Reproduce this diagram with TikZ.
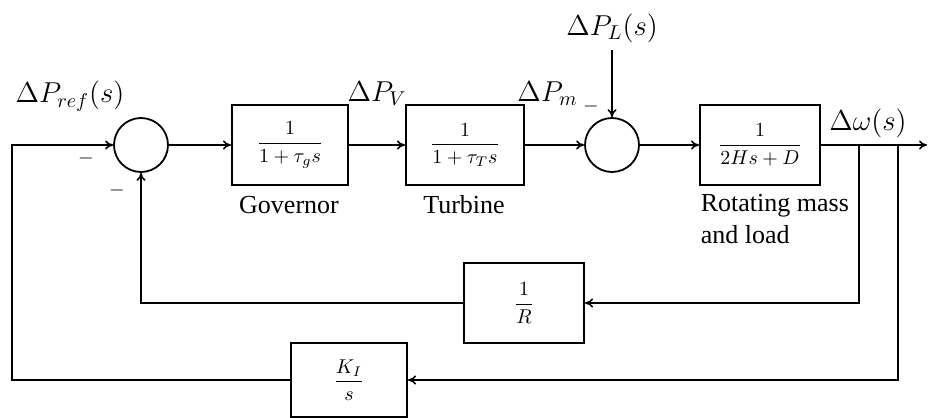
\documentclass[tikz,border=0pt]{standalone}
\usepackage{fontspec}
\setmainfont{Liberation Serif}
\usetikzlibrary{arrows.meta}
\tikzset{
  blk/.style={draw, line width=1pt, minimum width=#1, minimum height=40pt, inner sep=1pt},
  blk/.default=58pt,
  sumnode/.style={draw, circle, line width=0.9pt, minimum size=27pt, inner sep=0pt},
  sig/.style={-{To[length=4pt,width=4.5pt]}},
  siglbl/.style={font=\Large},
  boxlbl/.style={font=\fontsize{13}{16}\selectfont}
}
\begin{document}
\begin{tikzpicture}[x=0.5pt, y=-0.5pt, line width=0.8pt]
  \useasboundingbox (0,0) rectangle (929,417);
  % summing junctions
  \node[sumnode] (S1) at (141,145) {};
  \node[sumnode] (S2) at (612,145) {};
  % forward path
  \node[blk=58pt] (Gov) at (290,145) {$\displaystyle\frac{1}{1+\tau_g s}$};
  \node[blk=59pt] (Turb) at (465,145) {$\displaystyle\frac{1}{1+\tau_T s}$};
  \node[blk=60pt] (Rot) at (760,145) {$\displaystyle\frac{1}{2Hs+D}$};
  % feedback blocks
  \node[blk=60pt] (RInv) at (524,303) {$\displaystyle\frac{1}{R}$};
  \node[blk=58pt, minimum height=37pt] (KInt) at (349,380) {$\displaystyle\frac{K_I}{s}$};
  \coordinate (PL) at (612,50);
  \coordinate (Out) at (927,145);
  \coordinate (B1) at (859,145);
  \coordinate (B2) at (898,145);
  \coordinate (L1) at (12,145);
  % signals
  \draw[sig] (S1) -- (Gov);
  \draw[sig] (Gov) -- (Turb) node[siglbl, midway, above=16pt] {$\Delta P_V$};
  \draw[sig] (Turb) -- (S2) node[siglbl, midway, above=16pt, xshift=-3.5pt] {$\Delta P_m$};
  \draw[sig] (PL) -- (S2) node[siglbl, pos=0, above=0pt] {$\Delta P_L(s)$};
  \draw[sig] (S2) -- (Rot);
  \draw[sig] (Rot) -- (Out) node[siglbl, midway, above=0pt, xshift=-3pt] {$\Delta\omega(s)$};
  \draw[sig] (B1) |- (RInv);
  \draw[sig] (RInv) -| (S1);
  \draw[sig] (B2) |- (KInt);
  \draw[sig] (KInt) -| (L1) -- (S1);
  % signs and labels
  \node[siglbl] (Ref) at (70,96) {$\Delta P_{ref}(s)$};
  \node (M1) at (86,158) {$-$};
  \node (M2) at (117,190) {$-$};
  \node (M3) at (591,107) {$-$};
  \node[boxlbl] (GovLbl) at (289,205) {Governor};
  \node[boxlbl] (TurbLbl) at (464,205) {Turbine};
  \node[boxlbl, anchor=north west, align=left, inner sep=0pt] (RotLbl) at (700,193) {Rotating mass\\and load};
\end{tikzpicture}
\end{document}
